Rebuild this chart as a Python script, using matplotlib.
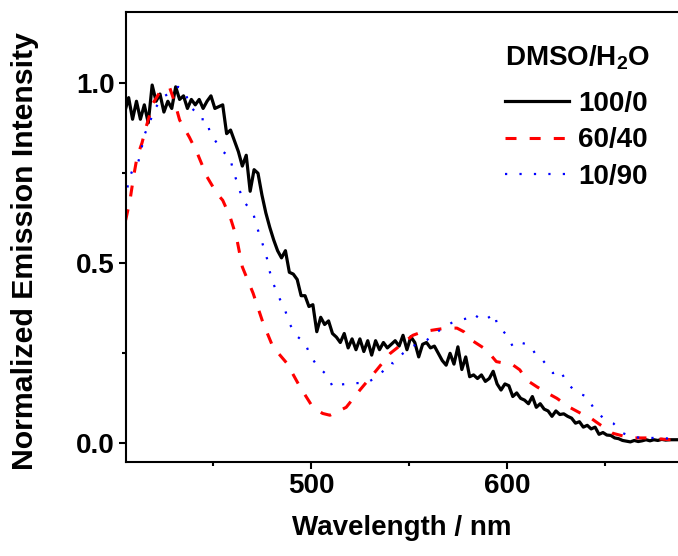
import numpy as np
import matplotlib
matplotlib.use("Agg")
import matplotlib.pyplot as plt

plt.rcParams['font.family'] = ['Liberation Sans', 'DejaVu Sans']
plt.rcParams['font.weight'] = 'bold'
plt.rcParams['mathtext.fontset'] = 'custom'
plt.rcParams['mathtext.rm'] = 'Liberation Sans:bold'
plt.rcParams['mathtext.bf'] = 'Liberation Sans:bold'

# 100/0 DMSO/H2O, read every 2 nm
wl_100 = np.arange(405, 689, 2)
int_100 = [
    0.92, 0.96, 0.90, 0.95, 0.90, 0.94, 0.89, 0.995, 0.95, 0.97,
    0.92, 0.95, 0.93, 0.99, 0.955, 0.965, 0.93, 0.955, 0.94, 0.955,
    0.93, 0.95, 0.965, 0.93, 0.935, 0.94, 0.86, 0.87, 0.84, 0.81,
    0.77, 0.80, 0.70, 0.76, 0.75, 0.69, 0.64, 0.60, 0.565, 0.535,
    0.515, 0.535, 0.475, 0.47, 0.455, 0.41, 0.41, 0.38, 0.385, 0.31,
    0.35, 0.33, 0.34, 0.305, 0.295, 0.28, 0.305, 0.265, 0.29, 0.26,
    0.29, 0.255, 0.285, 0.245, 0.285, 0.26, 0.28, 0.265, 0.275, 0.285,
    0.27, 0.30, 0.26, 0.296, 0.28, 0.24, 0.275, 0.28, 0.265, 0.27,
    0.25, 0.23, 0.217, 0.25, 0.22, 0.268, 0.205, 0.24, 0.185, 0.19,
    0.18, 0.19, 0.172, 0.18, 0.20, 0.165, 0.148, 0.165, 0.16, 0.13,
    0.14, 0.125, 0.12, 0.11, 0.13, 0.10, 0.11, 0.095, 0.09, 0.075,
    0.09, 0.08, 0.082, 0.075, 0.07, 0.056, 0.06, 0.045, 0.05, 0.04,
    0.045, 0.025, 0.03, 0.023, 0.022, 0.015, 0.013, 0.008, 0.006, 0.004,
    0.008, 0.005, 0.007, 0.01, 0.007, 0.01, 0.008, 0.011, 0.009, 0.01,
    0.01, 0.01,
]

# 60/40
wl_60 = [405.5, 407.7, 409.5, 411.3, 413.8, 416, 419.5, 423, 426.5, 428,
         430.6, 433, 438, 442, 447, 452, 455, 458.7, 462, 465,
         470.5, 475.6, 480.6, 487.8, 494.4, 501, 506, 509.7, 518, 525,
         533.6, 540.5, 547, 552, 557, 564, 569, 574.5, 578, 581,
         589.5, 594.6, 603, 606.6, 610, 615.3, 620.5, 625.5, 632, 637.8,
         642.8, 648, 654, 663, 672, 683, 688]
int_60 = [0.62, 0.675, 0.74, 0.795, 0.834, 0.88, 0.945, 0.976, 0.98, 0.987,
          0.945, 0.898, 0.85, 0.806, 0.74, 0.694, 0.675, 0.63, 0.573, 0.49,
          0.417, 0.334, 0.268, 0.222, 0.157, 0.10, 0.083, 0.078, 0.10, 0.148,
          0.204, 0.25, 0.278, 0.30, 0.31, 0.316, 0.32, 0.32, 0.31, 0.29,
          0.26, 0.227, 0.218, 0.204, 0.176, 0.157, 0.14, 0.125, 0.10, 0.083,
          0.07, 0.05, 0.028, 0.015, 0.015, 0.01, 0.01]

# 10/90
wl_10 = [405.2, 406.2, 406.7, 408.7, 411.8, 415.3, 416.9, 420.5, 424.5, 429.1,
         432.2, 435.8, 438.3, 441.9, 443.4, 447, 448.5, 452.6, 455.1, 458.7,
         460.2, 462.8, 465.3, 467.9, 470.5, 472.5, 475, 477.6, 479.1, 480.7,
         484.2, 486.8, 489.3, 492.9, 497, 499.5, 503.6, 508.2, 511.3, 514.8,
         521.5, 528.6, 535.2, 540.3, 542, 547, 552.1, 559.2, 565.9, 572.5,
         579.6, 582.7, 587.8, 593.9, 594.9, 600, 603.1, 606.7, 611.8, 615.4,
         618.4, 623.5, 627.1, 630.7, 635.8, 640.9, 644, 649.1, 654.2, 659.3,
         664.4, 671.6, 679.7, 686.8]
int_10 = [0.717, 0.694, 0.727, 0.755, 0.778, 0.86, 0.88, 0.93, 0.962, 0.976,
          0.99, 0.976, 0.935, 0.917, 0.90, 0.90, 0.86, 0.83, 0.81, 0.795,
          0.76, 0.717, 0.675, 0.657, 0.64, 0.60, 0.56, 0.513, 0.475, 0.445,
          0.40, 0.37, 0.33, 0.297, 0.28, 0.245, 0.212, 0.19, 0.155, 0.163,
          0.167, 0.168, 0.19, 0.225, 0.222, 0.25, 0.27, 0.287, 0.315, 0.337,
          0.347, 0.36, 0.34, 0.36, 0.33, 0.30, 0.268, 0.28, 0.273, 0.24,
          0.23, 0.195, 0.204, 0.167, 0.14, 0.13, 0.10, 0.07, 0.056, 0.028,
          0.017, 0.015, 0.015, 0.01]

labels = ['100/0', '60/40', '10/90']
FS = 20

fig = plt.figure(figsize=(6.78, 5.56), dpi=100)
ax = fig.add_axes([125.7 / 678, 1 - 461.7 / 556, 1 - 125.7 / 678, (461.7 - 12.3) / 556])

ax.plot(wl_100, int_100, color='black', lw=2.3, label=labels[0])
ax.plot(wl_60, int_60, color='#ff0000', lw=2.2, dashes=(3.6, 4.3), label=labels[1])
ax.plot(wl_10, int_10, color='#0000ff', lw=1.6, dashes=(1.0, 5.5), label=labels[2])

ax.set_xlim(405.5, 687.3)
ax.set_ylim(-0.051, 1.197)
ax.set_xticks([500, 600])
ax.set_xticks([450, 550, 650], minor=True)
ax.set_yticks([0.0, 0.5, 1.0])
ax.set_yticks([0.25, 0.75], minor=True)
ax.tick_params(which='major', direction='out', length=5, width=1.5, labelsize=FS, pad=3)
ax.tick_params(which='minor', direction='out', length=3, width=1.5)
for s in ['left', 'bottom', 'top']:
    ax.spines[s].set_linewidth(1.5)
ax.spines['right'].set_visible(False)

ax.set_xlabel('Wavelength / nm', fontsize=FS, fontweight='bold', labelpad=12)
ax.set_ylabel('Normalized Emission Intensity', fontsize=21.8, fontweight='bold')
ax.yaxis.set_label_coords(-0.157, 0.469)

ax.text(0.6868, 0.8827, r'DMSO/H$_2$O', transform=ax.transAxes, fontsize=FS,
        fontweight='bold', ha='left', va='baseline')
leg = ax.legend(loc='upper left', bbox_to_anchor=(0.6868, 0.825),
                frameon=False, prop={'size': FS, 'weight': 'bold'},
                handlelength=2.3, handletextpad=0.33,
                labelspacing=0.37, borderpad=0, borderaxespad=0)

fig.savefig('out.png', dpi=100)
